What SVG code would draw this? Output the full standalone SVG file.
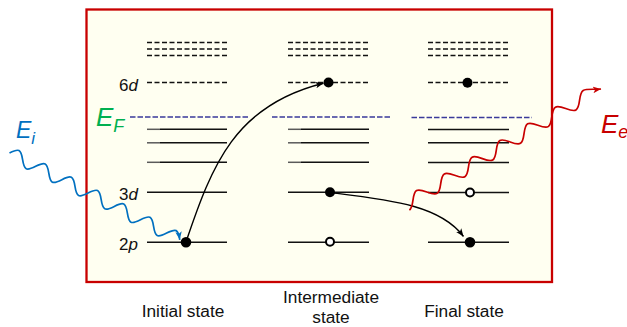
<svg xmlns="http://www.w3.org/2000/svg" width="627" height="327" viewBox="0 0 627 327">
  <style>
    text { font-family: "Liberation Sans", Arial, sans-serif; }
    .frame { fill: #FFFFF1; stroke: #C80000; stroke-width: 2.3; }
    .lvl { stroke: #111; stroke-width: 1.5; fill: none; }
    .stub { stroke: #5a5a5a; stroke-width: 1.5; }
    .empty { stroke: #111; stroke-width: 1.4; stroke-dasharray: 5 2.5; fill: none; }
    .fermi { stroke: #3a3a9a; stroke-width: 1.3; stroke-dasharray: 5.5 2; fill: none; }
    .full { fill: #000; }
    .hole { fill: #fff; stroke: #000; stroke-width: 2; }
    .move { fill: none; stroke: #000; stroke-width: 1.4; }
    .wave { fill: none; stroke-width: 1.7; }
    .orb { font-size: 17px; fill: #111; }
    .cap { font-size: 17.3px; fill: #111; text-anchor: middle; }
  </style>
  <defs>
    <marker id="headK" viewBox="0 0 10 10" refX="10" refY="5" markerWidth="8" markerHeight="8" markerUnits="userSpaceOnUse" orient="auto">
      <path d="M0,1 L10,5 L0,9 L2.5,5 Z" fill="#000"/>
    </marker>
    <marker id="headB" viewBox="0 0 10 10" refX="10" refY="5" markerWidth="8" markerHeight="8" markerUnits="userSpaceOnUse" orient="auto">
      <path d="M0,1 L10,5 L0,9 L2.5,5 Z" fill="#0070C0"/>
    </marker>
    <marker id="headR" viewBox="0 0 10 10" refX="10" refY="5" markerWidth="8" markerHeight="8" markerUnits="userSpaceOnUse" orient="auto">
      <path d="M0,1 L10,5 L0,9 L2.5,5 Z" fill="#C80000"/>
    </marker>
  </defs>

  <!-- sample frame -->
  <rect id="frame" class="frame" x="86.5" y="9.5" width="465.5" height="272.5"/>

  <!-- orbital labels -->
  <g id="orbital-labels">
    <text class="orb" x="138" y="90.5" text-anchor="end">6<tspan font-style="italic">d</tspan></text>
    <text class="orb" x="138" y="200" text-anchor="end">3<tspan font-style="italic">d</tspan></text>
    <text class="orb" x="138" y="249.5" text-anchor="end">2<tspan font-style="italic">p</tspan></text>
  </g>

  <!-- Fermi level label -->
  <g id="fermi-label">
    <text x="96" y="126" font-size="26" font-style="italic" fill="#00B050">E<tspan font-size="18" dy="6">F</tspan></text>
  </g>

  <!-- initial state column -->
  <g id="initial">
    <line class="empty" x1="147" y1="42.5" x2="227" y2="42.5"/>
    <line class="empty" x1="147" y1="49" x2="227" y2="49"/>
    <line class="empty" x1="147" y1="55.5" x2="227" y2="55.5"/>
    <line class="empty" x1="147" y1="82.5" x2="227" y2="82.5"/>
    <line class="fermi" x1="130" y1="117" x2="250" y2="117"/>
    <line class="lvl" x1="160" y1="129.3" x2="227" y2="129.3"/>
    <line class="stub" x1="147" y1="129.3" x2="160" y2="129.3"/>
    <line class="lvl" x1="160" y1="142.8" x2="227" y2="142.8"/>
    <line class="stub" x1="147" y1="142.8" x2="160" y2="142.8"/>
    <line class="lvl" x1="160" y1="162.3" x2="227" y2="162.3"/>
    <line class="stub" x1="147" y1="162.3" x2="160" y2="162.3"/>
    <line class="lvl" x1="147" y1="192.3" x2="227" y2="192.3"/>
    <line class="lvl" x1="147" y1="242.3" x2="227" y2="242.3"/>
  </g>

  <!-- intermediate state column -->
  <g id="intermediate">
    <line class="empty" x1="288" y1="42.5" x2="369" y2="42.5"/>
    <line class="empty" x1="288" y1="49" x2="369" y2="49"/>
    <line class="empty" x1="288" y1="55.5" x2="369" y2="55.5"/>
    <line class="empty" x1="288" y1="82.5" x2="369" y2="82.5"/>
    <line class="fermi" x1="272" y1="117" x2="392" y2="117"/>
    <line class="lvl" x1="301" y1="129.3" x2="369" y2="129.3"/>
    <line class="stub" x1="288" y1="129.3" x2="301" y2="129.3"/>
    <line class="lvl" x1="301" y1="142.8" x2="369" y2="142.8"/>
    <line class="stub" x1="288" y1="142.8" x2="301" y2="142.8"/>
    <line class="lvl" x1="301" y1="162.3" x2="369" y2="162.3"/>
    <line class="stub" x1="288" y1="162.3" x2="301" y2="162.3"/>
    <line class="lvl" x1="288" y1="192.3" x2="369" y2="192.3"/>
    <line class="lvl" x1="288" y1="242.3" x2="369" y2="242.3"/>
  </g>

  <!-- final state column -->
  <g id="final">
    <line class="empty" x1="428" y1="42.5" x2="509" y2="42.5"/>
    <line class="empty" x1="428" y1="49" x2="509" y2="49"/>
    <line class="empty" x1="428" y1="55.5" x2="509" y2="55.5"/>
    <line class="empty" x1="428" y1="82.5" x2="509" y2="82.5"/>
    <line class="fermi" x1="411.5" y1="117.5" x2="532" y2="117.5"/>
    <line class="lvl" x1="428" y1="129.5" x2="509" y2="129.5"/>
    <line class="lvl" x1="428" y1="142.8" x2="509" y2="142.8"/>
    <line class="lvl" x1="428" y1="162.5" x2="509" y2="162.5"/>
    <line class="lvl" x1="428" y1="192.5" x2="509" y2="192.5"/>
    <line class="lvl" x1="428" y1="242.3" x2="509" y2="242.3"/>
  </g>

  <!-- transitions: electron moves and photons -->
  <g id="connectors">
    <path class="move" d="M186,242 C212,165 235,105 323.5,83.2" marker-end="url(#headK)"/>
    <path class="move" d="M330,192.5 C390,200 440,205 463.5,236.5" marker-end="url(#headK)"/>
    <!-- incoming photon -->
    <g transform="translate(9.5,153) rotate(27)">
      <path class="wave" stroke="#0070C0" marker-end="url(#headB)" d="M0,0 c2.397,-3.33 4.690,-6.5 7.35,-6.5 s4.953,3.17 7.35,6.5 s4.690,6.5 7.35,6.5 s4.953,-3.17 7.35,-6.5
        s4.690,-6.5 7.35,-6.5 s4.953,3.17 7.35,6.5 s4.690,6.5 7.35,6.5 s4.953,-3.17 7.35,-6.5
        s4.690,-6.5 7.35,-6.5 s4.953,3.17 7.35,6.5 s4.690,6.5 7.35,6.5 s4.953,-3.17 7.35,-6.5
        s4.690,-6.5 7.35,-6.5 s4.953,3.17 7.35,6.5 s4.690,6.5 7.35,6.5 s4.953,-3.17 7.35,-6.5
        s4.690,-6.5 7.35,-6.5 s4.953,3.17 7.35,6.5 s4.690,6.5 7.35,6.5 s4.953,-3.17 7.35,-6.5
        s4.690,-6.5 7.35,-6.5 s4.953,3.17 7.35,6.5 s4.690,6.5 7.35,6.5 s4.953,-3.17 7.35,-6.5
        s4.690,-6.5 7.35,-6.5 s4.953,3.17 7.35,6.5"/>
    </g>
    <!-- emitted photon -->
    <g transform="translate(406,204.5) rotate(-31)">
      <path class="wave" stroke="#C80000" marker-end="url(#headR)" d="M0,6.5 c2.931,0 5.458,-3.17 8.1,-6.5
        s5.169,-6.5 8.1,-6.5 s5.458,3.17 8.1,6.5 s5.169,6.5 8.1,6.5 s5.458,-3.17 8.1,-6.5
        s5.169,-6.5 8.1,-6.5 s5.458,3.17 8.1,6.5 s5.169,6.5 8.1,6.5 s5.458,-3.17 8.1,-6.5
        s5.169,-6.5 8.1,-6.5 s5.458,3.17 8.1,6.5 s5.169,6.5 8.1,6.5 s5.458,-3.17 8.1,-6.5
        s5.169,-6.5 8.1,-6.5 s5.458,3.17 8.1,6.5 s5.169,6.5 8.1,6.5 s5.458,-3.17 8.1,-6.5
        s5.169,-6.5 8.1,-6.5 s5.458,3.17 8.1,6.5 s5.169,6.5 8.1,6.5 s5.458,-3.17 8.1,-6.5
        s5.169,-6.5 8.1,-6.5 s5.458,3.17 8.1,6.5 s5.169,6.5 8.1,6.5 s5.458,-3.17 8.1,-6.5
        s5.169,-6.5 8.1,-6.5 c4,0 10.3,5.37 16.06,7.93"/>
    </g>
  </g>

  <!-- electrons and holes -->
  <g id="electrons">
    <circle class="full" cx="186" cy="242.3" r="5.3"/>
    <circle class="full" cx="328.5" cy="82.5" r="5"/>
    <circle class="full" cx="330" cy="192.3" r="5"/>
    <circle class="hole" cx="330" cy="241.8" r="4"/>
    <circle class="full" cx="467.5" cy="82.8" r="5"/>
    <circle class="hole" cx="470" cy="192.5" r="4"/>
    <circle class="full" cx="470" cy="242.3" r="5.3"/>
  </g>

  <!-- photon energy labels -->
  <g id="photon-labels">
    <text x="16" y="138" font-size="23" font-style="italic" fill="#0070C0">E<tspan font-size="17" dy="6">i</tspan></text>
    <text x="601" y="133" font-size="26" font-style="italic" fill="#C80000">E<tspan font-size="18" dy="5">e</tspan></text>
  </g>

  <!-- column captions -->
  <g id="captions">
    <text class="cap" x="183" y="316.5">Initial state</text>
    <text class="cap" x="331" y="303" font-size="17">Intermediate</text>
    <text class="cap" x="331" y="323" font-size="17">state</text>
    <text class="cap" x="464" y="316.5">Final state</text>
  </g>
</svg>
